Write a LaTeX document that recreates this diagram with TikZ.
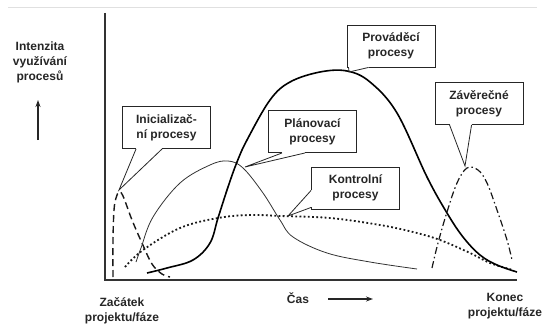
\documentclass[tikz,border=0pt]{standalone}
\usepackage{fontspec}
\setmainfont{Liberation Sans}
\usetikzlibrary{arrows.meta,calc}

\begin{document}
\begin{tikzpicture}[x=1pt, y=-1pt,
    callbox/.style={draw=black!85, line width=0.9pt, fill=white, minimum width=88pt,
      minimum height=42pt, align=center, inner sep=2pt, text=black!85,
      font=\bfseries\fontsize{12}{15}\selectfont},
    axislabel/.style={align=center, text=black!85, font=\bfseries\fontsize{12}{15}\selectfont},
    pointer/.style={draw=black!85, line width=0.8pt},
    gapfill/.style={draw=white, line width=1.8pt},
    axisline/.style={draw=black!80, line width=1.3pt}]

    % Fix the page to the size of the reference
    \useasboundingbox (0,0) rectangle (543,326);

    % Faint rule along the top edge
    \draw[black!12, line width=0.8pt] (8,7) -- (537,7);

    % Axes
    \coordinate (O) at (105,280);
    \coordinate (Ytop) at (105,13);
    \coordinate (Xend) at (517,280);
    \draw[axisline] (Ytop) -- (O) -- (Xend);

    % Initiating processes (dashed)
    \draw[black!90, line width=1.4pt, dash pattern=on 7pt off 4pt]
      plot[smooth, tension=0.6] coordinates {(113,277) (113,240) (114,210) (116,198) (119,192)
        (123,196) (132,220) (142,243) (152,264) (162,274) (170,277)};

    % Planning processes (thin solid)
    \draw[black!80, line width=0.8pt]
      plot[smooth, tension=0.6] coordinates {(136,262) (141,248) (153,217) (180,183) (210,165)
        (228,161) (243,168) (263,193) (280,220) (293,237) (327,253) (370,262) (417,269)};

    % Controlling processes (dotted)
    \draw[black!90, line width=1.8pt, dash pattern=on 1.8pt off 2.4pt]
      plot[smooth, tension=0.6] coordinates {(125,267) (143,250) (180,228) (218,218) (250,215)
        (280,216) (330,218) (380,225) (413,232) (440,240) (470,253) (490,263) (513,270)};

    % Executing processes (thick solid)
    \draw[black, line width=1.6pt]
      plot[smooth, tension=0.6] coordinates {(147,273) (167,268) (193,260) (210,243) (218,218)
        (228,187) (237,162) (247,140) (270,100) (290,82) (320,72) (347,71) (370,82) (397,113)
        (427,177) (447,213) (463,237) (480,255) (497,265) (517,272)};

    % Closing processes (dash-dot)
    \draw[black!90, line width=1.2pt, dash pattern=on 7pt off 3pt on 1.5pt off 3pt]
      plot[smooth, tension=0.6] coordinates {(432,268) (438,243) (447,212) (457,183) (467,168)
        (478,170) (487,183) (497,210) (507,240) (512,260)};

    % Callout boxes
    \node[callbox] (ini) at (166.5,127.5) {Inicializač-\\ní procesy};
    \node[callbox] (prov) at (391,46) {Prováděcí\\procesy};
    \node[callbox] (plan) at (312.5,131.5) {Plánovací\\procesy};
    \node[callbox] (zav) at (479,103.5) {Závěrečné\\procesy};
    \node[callbox] (kon) at (355.5,188) {Kontrolní\\procesy};

    % Pointer tips on the curves
    \coordinate (ini tip) at (119,190);
    \coordinate (prov tip) at (349,72);
    \coordinate (plan tip) at (245,167);
    \coordinate (zav tip) at (465,166);
    \coordinate (kon tip) at (288,216);

    % Pointers of the callouts
    \draw[gapfill] ($(ini.south west)+(14,0)$) -- ($(ini.south west)+(40,0)$);
    \draw[pointer] ($(ini.south west)+(14,0)$) -- (ini tip) -- ($(ini.south west)+(40,0)$);
    \draw[gapfill] ($(prov.south west)+(2,0)$) -- ($(prov.south west)+(22,0)$);
    \draw[pointer] ($(prov.south west)+(2,0)$) -- (prov tip) -- ($(prov.south west)+(22,0)$);
    \draw[gapfill] ($(plan.south west)+(14,0)$) -- ($(plan.south west)+(37,0)$);
    \draw[pointer] ($(plan.south west)+(14,0)$) -- (plan tip) -- ($(plan.south west)+(37,0)$);
    \draw[gapfill] ($(zav.south west)+(15,0)$) -- ($(zav.south west)+(37,0)$);
    \draw[pointer] ($(zav.south west)+(15,0)$) -- (zav tip) -- ($(zav.south west)+(37,0)$);
    \draw[gapfill] ($(kon.south west)+(0,-19)$) -- ($(kon.south west)+(0,-2)$);
    \draw[pointer] ($(kon.south west)+(0,-19)$) -- (kon tip) -- ($(kon.south west)+(0,-2)$);

    % Axis labels
    \node[axislabel] (intens) at (40,62) {Intenzita\\využívání\\procesů};
    \coordinate (up start) at (38,140);
    \coordinate (up end) at (38,100);
    \draw[black!85, line width=1.2pt, -{Stealth[length=7pt,width=5pt]}] (up start) -- (up end);

    \node[axislabel] (start) at (122,311) {Začátek\\projektu/fáze};
    \node[axislabel] (time) at (298,298) {Čas};
    \coordinate (time start) at (328,299);
    \coordinate (time end) at (373,299);
    \draw[black!85, line width=1.2pt, -{Stealth[length=7pt,width=5pt]}] (time start) -- (time end);
    \node[axislabel] (end) at (505,306) {Konec\\projektu/fáze};

\end{tikzpicture}
\end{document}
